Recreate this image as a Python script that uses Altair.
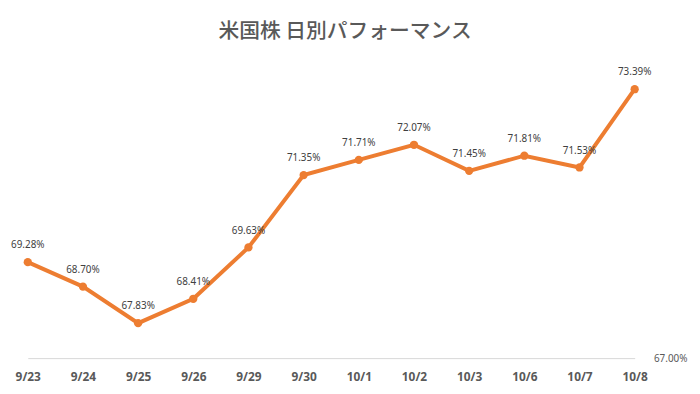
import altair as alt
import pandas as pd

dates = ["9/23", "9/24", "9/25", "9/26", "9/29", "9/30", "10/1", "10/2", "10/3", "10/6", "10/7", "10/8"]
values = [69.28, 68.70, 67.83, 68.41, 69.63, 71.35, 71.71, 72.07, 71.45, 71.81, 71.53, 73.39]

df = pd.DataFrame({"date": dates, "v": [x / 100 for x in values]})

color = "#ED7D31"
grey = "#595959"

x = alt.X("date:N", sort=dates, title=None,
          scale=alt.Scale(type="point", padding=0),
          axis=alt.Axis(labelAngle=0, labelFontSize=12, labelFontWeight="bold",
                        labelColor=grey, labelFont="Noto Sans", ticks=False,
                        domainColor="#D9D9D9", domainWidth=1, labelPadding=14))
y = alt.Y("v:Q", title=None,
          scale=alt.Scale(domain=[0.67, 0.74], zero=False, nice=False),
          axis=alt.Axis(orient="right", values=[0.67], format=".2%", grid=False,
                        domain=False, ticks=False, labelFontSize=10, labelColor=grey,
                        labelFont="Noto Sans", labelPadding=19, labelBaseline="bottom",
                        labelOffset=5))

base = alt.Chart(df)

line = base.mark_line(color=color, strokeWidth=4).encode(x=x, y=y)
pts = base.mark_circle(color=color, size=70, opacity=1).encode(x=x, y=y)
labels = base.mark_text(dy=-17, fontSize=10, color="#404040", font="Noto Sans").encode(
    x=x, y=y, text=alt.Text("v:Q", format=".2%"))

chart = (line + pts + labels).properties(
    width=614, height=298,
    title=alt.TitleParams("米国株 日別パフォーマンス", font="Noto Sans CJK JP", fontSize=21,
                          fontWeight=500, color=grey, offset=22, dx=14),
    autosize=alt.AutoSizeParams(type="none"),
    padding={"left": 20, "top": 54, "right": 58, "bottom": 24},
).configure_view(stroke=None)

chart.save("out.html", embed_options={"renderer": "svg", "actions": False})
